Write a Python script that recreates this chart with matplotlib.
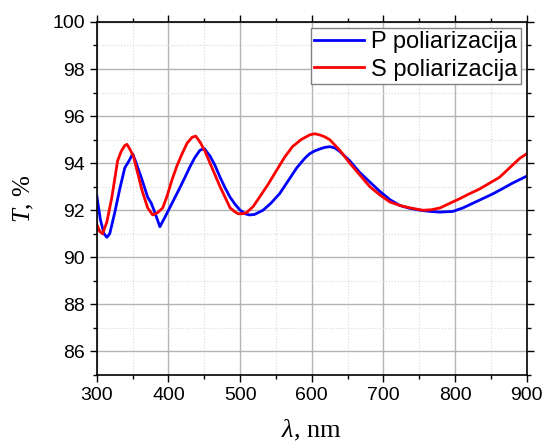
import numpy as np
import matplotlib
matplotlib.use('Agg')
import matplotlib.pyplot as plt
from matplotlib.ticker import MultipleLocator

# P polarization (blue)
lam_p = [300, 305, 310, 314, 318, 325, 332, 339, 345, 350, 355, 363, 371, 376, 381, 388,
         395, 405, 415, 423, 430, 437, 444, 450, 458, 465, 472, 479, 486, 493, 500, 507,
         513, 520, 532, 543, 555, 567, 579, 590, 597, 604, 611, 618, 625, 632, 639, 653,
         667, 681, 695, 709, 723, 737, 751, 765, 779, 797, 811, 825, 839, 853, 867, 880, 890, 900]
T_p = [92.6, 91.6, 91.0, 90.85, 91.0, 91.9, 92.9, 93.8, 94.1, 94.4, 94.0, 93.3, 92.55, 92.3, 91.9, 91.3,
       91.7, 92.3, 92.9, 93.4, 93.85, 94.25, 94.55, 94.62, 94.3, 93.9, 93.4, 92.95, 92.55, 92.25, 92.0, 91.85,
       91.8, 91.82, 92.0, 92.3, 92.7, 93.25, 93.8, 94.2, 94.4, 94.52, 94.6, 94.67, 94.7, 94.65, 94.5, 94.1,
       93.6, 93.2, 92.8, 92.45, 92.2, 92.08, 92.0, 91.95, 91.92, 91.95, 92.1, 92.3, 92.5, 92.7, 92.93, 93.15, 93.3, 93.45]

# S polarization (red)
lam_s = [300, 304, 308, 314, 321, 329, 334, 339, 342, 346, 351, 356, 363, 371, 378, 385,
         392, 398, 405, 412, 419, 426, 433, 438, 444, 451, 458, 465, 472, 479, 486, 492,
         497, 503, 509, 518, 527, 539, 551, 562, 573, 585, 597, 604, 611, 618, 625, 639,
         653, 667, 681, 695, 709, 723, 737, 755, 767, 779, 793, 807, 820, 834, 848, 862, 876, 890, 900]
T_s = [91.4, 91.1, 91.0, 91.5, 92.55, 94.1, 94.5, 94.75, 94.8, 94.6, 94.3, 93.7, 92.85, 92.1, 91.8, 91.9,
       92.1, 92.6, 93.3, 93.9, 94.4, 94.85, 95.1, 95.15, 94.9, 94.5, 94.0, 93.5, 93.0, 92.55, 92.1, 91.95,
       91.85, 91.85, 91.9, 92.15, 92.55, 93.1, 93.7, 94.25, 94.7, 95.0, 95.2, 95.25, 95.2, 95.12, 95.0, 94.55,
       94.0, 93.5, 93.0, 92.65, 92.35, 92.2, 92.1, 92.0, 92.02, 92.1, 92.3, 92.5, 92.7, 92.9, 93.15, 93.4, 93.8, 94.2, 94.4]

plt.rcParams['font.family'] = ['Liberation Sans', 'DejaVu Sans']
plt.rcParams['mathtext.fontset'] = 'custom'
plt.rcParams['mathtext.it'] = 'Liberation Serif:italic'
plt.rcParams['mathtext.rm'] = 'Liberation Serif'

fig = plt.figure(figsize=(5.47, 4.48), dpi=100)
ax = fig.add_axes([0.177, 0.163, 0.786, 0.788])

ax.plot(lam_p, T_p, color='#0000ff', linewidth=2, label='P poliarizacija')
ax.plot(lam_s, T_s, color='#ff0000', linewidth=2, label='S poliarizacija')

ax.set_xlim(300, 900)
ax.set_ylim(85, 100)
ax.xaxis.set_major_locator(MultipleLocator(100))
ax.xaxis.set_minor_locator(MultipleLocator(50))
ax.yaxis.set_major_locator(MultipleLocator(2))
ax.yaxis.set_minor_locator(MultipleLocator(1))

ax.grid(which='major', color='#b4b4b4', linewidth=1, linestyle='-')
ax.grid(which='minor', color='#d8d8d8', linewidth=0.8, linestyle=':')
ax.set_axisbelow(True)

ax.tick_params(which='both', direction='out', top=True, right=True, labelsize=14, width=1)
ax.tick_params(which='major', length=5)
ax.tick_params(which='minor', length=3)
for sp in ax.spines.values():
    sp.set_linewidth(1.2)

ax.set_xlabel(r'$\lambda$, nm', family='Liberation Serif', fontsize=19, labelpad=10)
ax.set_ylabel(r'$T$, %', family='Liberation Serif', fontsize=18, labelpad=12)

leg = ax.legend(loc='upper right', fontsize=17, fancybox=False, framealpha=1,
                edgecolor='#808080', handlelength=2.1, borderpad=0.15, labelspacing=0.22,
                handletextpad=0.3, borderaxespad=0.25)
leg.get_frame().set_linewidth(1)

fig.savefig('out.png', dpi=100)
